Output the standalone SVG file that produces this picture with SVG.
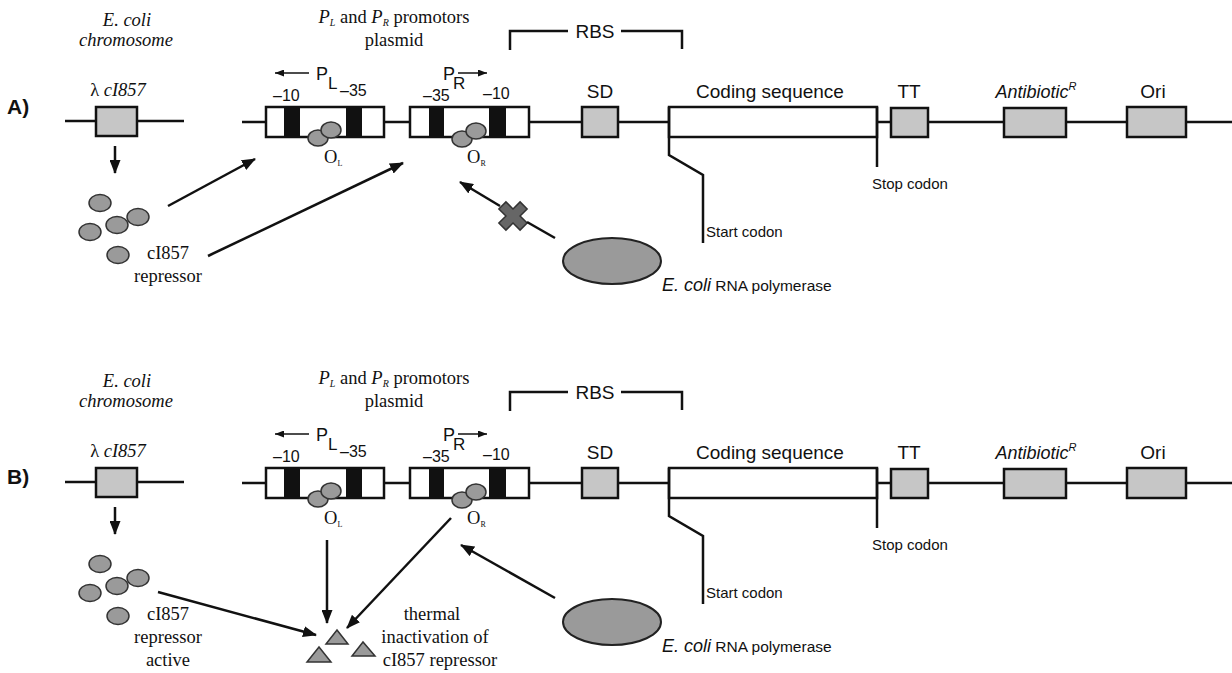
<svg xmlns="http://www.w3.org/2000/svg" width="1232" height="673" viewBox="0 0 1232 673">
<style>
.ln{stroke:#111;stroke-width:2.5;fill:none}
.box{fill:#c6c6c6;stroke:#111;stroke-width:2.5}
.wbox{fill:#fff;stroke:#111;stroke-width:2.5}
.blk{fill:#111}
.dot{fill:#9a9a9a;stroke:#333;stroke-width:1.5}
.serif{font-family:"Liberation Serif","Times New Roman",serif;fill:#111;font-size:18.5px}
.sans{font-family:"Liberation Sans",Arial,sans-serif;fill:#111}
.lbl{font-size:19px}
.num{font-size:16px}
.small{font-size:15px}
.arr{stroke:#111;stroke-width:2.5;fill:none;marker-end:url(#ah)}
.arrs{stroke:#111;stroke-width:1.5;fill:none;marker-end:url(#ahs)}
.panel{font-family:"Liberation Sans",Arial,sans-serif;font-weight:bold;font-size:21px;fill:#111}
</style>
<defs>
<marker id="ah" markerUnits="userSpaceOnUse" markerWidth="14" markerHeight="11" refX="13" refY="5.5" orient="auto"><path d="M0,0 L14,5.5 L0,11 z" fill="#111"/></marker>
<marker id="ahs" markerUnits="userSpaceOnUse" markerWidth="9" markerHeight="7" refX="9" refY="3.5" orient="auto"><path d="M0,0 L9,3.5 L0,7 z" fill="#111"/></marker>
</defs>
<rect width="1232" height="673" fill="#fff"/>

<!-- ===== Panel A ===== -->
<g id="panelA">
<text class="panel" x="7" y="114">A)</text>
<g id="A-chromosome">
<text class="serif" x="127" y="26" text-anchor="middle" font-style="italic">E. coli</text>
<text class="serif" x="126" y="46" text-anchor="middle" font-style="italic">chromosome</text>
<text class="serif" x="118" y="96" text-anchor="middle"><tspan>λ </tspan><tspan font-style="italic">cI857</tspan></text>
<line class="ln" x1="65" y1="121" x2="184" y2="121"/>
<rect class="box" x="96" y="107" width="41" height="29"/>
</g>
<g id="A-repressor">
<ellipse class="dot" cx="100" cy="203" rx="11" ry="8.5"/>
<ellipse class="dot" cx="90" cy="232" rx="11" ry="8.5"/>
<ellipse class="dot" cx="117" cy="225" rx="11" ry="8.5"/>
<ellipse class="dot" cx="138" cy="217" rx="11" ry="8.5"/>
<ellipse class="dot" cx="118" cy="255" rx="11" ry="8.5"/>
<text class="serif" x="168" y="259" text-anchor="middle">cI857</text>
<text class="serif" x="168" y="282" text-anchor="middle">repressor</text>
</g>
<g id="A-plasmid-title">
<text class="serif" x="394" y="23" text-anchor="middle"><tspan font-style="italic">P</tspan><tspan font-style="italic" font-size="10" dy="3">L</tspan><tspan dy="-3"> and </tspan><tspan font-style="italic">P</tspan><tspan font-style="italic" font-size="10" dy="3">R</tspan><tspan dy="-3"> promotors</tspan></text>
<text class="serif" x="394" y="46" text-anchor="middle">plasmid</text>
</g>
<line class="ln" x1="242" y1="122" x2="1232" y2="122"/>
<g id="A-PL">
<rect class="wbox" x="266" y="107" width="118" height="30"/>
<rect class="blk" x="284" y="107" width="16" height="30"/>
<rect class="blk" x="346" y="107" width="16" height="30"/>
<ellipse class="dot" cx="318" cy="138" rx="10" ry="8"/>
<ellipse class="dot" cx="331" cy="130" rx="10" ry="8"/>
<text class="sans" x="316" y="80" font-size="18">P</text>
<text class="sans" x="328" y="89" font-size="17">L</text>
<text class="sans num" x="273" y="101">–10</text>
<text class="sans num" x="340" y="96">–35</text>
<text class="serif" x="324" y="163" font-size="14">O<tspan font-size="8" dy="3">L</tspan></text>
</g>
<g id="A-PR">
<rect class="wbox" x="410" y="107" width="119" height="30"/>
<rect class="blk" x="429" y="107" width="15" height="30"/>
<rect class="blk" x="489" y="107" width="17" height="30"/>
<ellipse class="dot" cx="462" cy="139" rx="10" ry="8"/>
<ellipse class="dot" cx="476" cy="131" rx="10" ry="8"/>
<text class="sans" x="443" y="80" font-size="18">P</text>
<text class="sans" x="453" y="89" font-size="17">R</text>
<text class="sans num" x="423" y="101">–35</text>
<text class="sans num" x="483" y="99">–10</text>
<text class="serif" x="467" y="163" font-size="14">O<tspan font-size="8" dy="3">R</tspan></text>
</g>
<g id="A-RBS">
<path class="ln" d="M510,50 V31 H568 M621,31 H682 V49"/>
<text class="sans lbl" x="595" y="38" text-anchor="middle">RBS</text>
</g>
<g id="A-SD">
<rect class="box" x="582" y="107" width="36" height="30"/>
<text class="sans lbl" x="600" y="98" text-anchor="middle">SD</text>
</g>
<g id="A-coding">
<rect class="wbox" x="669" y="107" width="208" height="30"/>
<text class="sans lbl" x="770" y="98" text-anchor="middle">Coding sequence</text>
<path class="ln" d="M669,107 V155 L703,175 V243"/>
<text class="sans small" x="706" y="237">Start codon</text>
<path class="ln" d="M877,107 V167"/>
<text class="sans small" x="872" y="189">Stop codon</text>
</g>
<g id="A-TT">
<rect class="box" x="891" y="108" width="37" height="29"/>
<text class="sans lbl" x="909" y="98" text-anchor="middle">TT</text>
</g>
<g id="A-antibiotic">
<rect class="box" x="1004" y="108" width="62" height="29"/>
<text class="sans" x="1036" y="98" text-anchor="middle" font-size="18" font-style="italic">Antibiotic<tspan font-size="11" dy="-8">R</tspan></text>
</g>
<g id="A-ori">
<rect class="box" x="1127" y="107" width="59" height="30" stroke-width="3"/>
<text class="sans lbl" x="1153" y="98" text-anchor="middle">Ori</text>
</g>
<g id="A-polymerase">
<ellipse cx="612" cy="261" rx="49" ry="23" fill="#9a9a9a" stroke="#222" stroke-width="2"/>
<text class="sans" x="662" y="291"><tspan font-style="italic" font-size="18">E. coli</tspan><tspan font-size="15.5"> RNA polymerase</tspan></text>
</g>
<g id="A-block">
<polygon points="-5,-15 5,-15 5,-5 15,-5 15,5 5,5 5,15 -5,15 -5,5 -15,5 -15,-5 -5,-5" transform="translate(513,216) rotate(45)" fill="#666" stroke="#333" stroke-width="1.5"/>
</g>
<g id="A-connectors">
<line class="arr" x1="115" y1="146" x2="115" y2="173"/>
<line class="arr" x1="168" y1="206" x2="255" y2="159"/>
<line class="arr" x1="208" y1="256" x2="403" y2="163"/>
<line class="ln" x1="555" y1="238" x2="527" y2="222"/>
<line class="arr" x1="500" y1="206" x2="460" y2="182"/>
<line class="arrs" x1="309" y1="73" x2="275" y2="73"/>
<line class="arrs" x1="458" y1="73" x2="487" y2="73"/>
</g>
</g>

<!-- ===== Panel B ===== -->
<g id="panelB">
<text class="panel" x="7" y="484">B)</text>
<g id="B-shared" transform="translate(0,361)">
<g id="B-chromosome">
<text class="serif" x="127" y="26" text-anchor="middle" font-style="italic">E. coli</text>
<text class="serif" x="126" y="46" text-anchor="middle" font-style="italic">chromosome</text>
<text class="serif" x="118" y="96" text-anchor="middle"><tspan>λ </tspan><tspan font-style="italic">cI857</tspan></text>
<line class="ln" x1="65" y1="121" x2="184" y2="121"/>
<rect class="box" x="96" y="107" width="41" height="29"/>
</g>
<g id="B-repressor">
<ellipse class="dot" cx="100" cy="203" rx="11" ry="8.5"/>
<ellipse class="dot" cx="90" cy="232" rx="11" ry="8.5"/>
<ellipse class="dot" cx="117" cy="225" rx="11" ry="8.5"/>
<ellipse class="dot" cx="138" cy="217" rx="11" ry="8.5"/>
<ellipse class="dot" cx="118" cy="255" rx="11" ry="8.5"/>
<text class="serif" x="168" y="259" text-anchor="middle">cI857</text>
<text class="serif" x="168" y="282" text-anchor="middle">repressor</text>
<text class="serif" x="168" y="305" text-anchor="middle">active</text>
</g>
<g id="B-plasmid-title">
<text class="serif" x="394" y="23" text-anchor="middle"><tspan font-style="italic">P</tspan><tspan font-style="italic" font-size="10" dy="3">L</tspan><tspan dy="-3"> and </tspan><tspan font-style="italic">P</tspan><tspan font-style="italic" font-size="10" dy="3">R</tspan><tspan dy="-3"> promotors</tspan></text>
<text class="serif" x="394" y="46" text-anchor="middle">plasmid</text>
</g>
<line class="ln" x1="242" y1="122" x2="1232" y2="122"/>
<g id="B-PL">
<rect class="wbox" x="266" y="107" width="118" height="30"/>
<rect class="blk" x="284" y="107" width="16" height="30"/>
<rect class="blk" x="346" y="107" width="16" height="30"/>
<ellipse class="dot" cx="318" cy="138" rx="10" ry="8"/>
<ellipse class="dot" cx="331" cy="130" rx="10" ry="8"/>
<text class="sans" x="316" y="80" font-size="18">P</text>
<text class="sans" x="328" y="89" font-size="17">L</text>
<text class="sans num" x="273" y="101">–10</text>
<text class="sans num" x="340" y="96">–35</text>
<text class="serif" x="324" y="163" font-size="14">O<tspan font-size="8" dy="3">L</tspan></text>
</g>
<g id="B-PR">
<rect class="wbox" x="410" y="107" width="119" height="30"/>
<rect class="blk" x="429" y="107" width="15" height="30"/>
<rect class="blk" x="489" y="107" width="17" height="30"/>
<ellipse class="dot" cx="462" cy="139" rx="10" ry="8"/>
<ellipse class="dot" cx="476" cy="131" rx="10" ry="8"/>
<text class="sans" x="443" y="80" font-size="18">P</text>
<text class="sans" x="453" y="89" font-size="17">R</text>
<text class="sans num" x="423" y="101">–35</text>
<text class="sans num" x="483" y="99">–10</text>
<text class="serif" x="467" y="163" font-size="14">O<tspan font-size="8" dy="3">R</tspan></text>
</g>
<g id="B-RBS">
<path class="ln" d="M510,50 V31 H568 M621,31 H682 V49"/>
<text class="sans lbl" x="595" y="38" text-anchor="middle">RBS</text>
</g>
<g id="B-SD">
<rect class="box" x="582" y="107" width="36" height="30"/>
<text class="sans lbl" x="600" y="98" text-anchor="middle">SD</text>
</g>
<g id="B-coding">
<rect class="wbox" x="669" y="107" width="208" height="30"/>
<text class="sans lbl" x="770" y="98" text-anchor="middle">Coding sequence</text>
<path class="ln" d="M669,107 V155 L703,175 V243"/>
<text class="sans small" x="706" y="237">Start codon</text>
<path class="ln" d="M877,107 V167"/>
<text class="sans small" x="872" y="189">Stop codon</text>
</g>
<g id="B-TT">
<rect class="box" x="891" y="108" width="37" height="29"/>
<text class="sans lbl" x="909" y="98" text-anchor="middle">TT</text>
</g>
<g id="B-antibiotic">
<rect class="box" x="1004" y="108" width="62" height="29"/>
<text class="sans" x="1036" y="98" text-anchor="middle" font-size="18" font-style="italic">Antibiotic<tspan font-size="11" dy="-8">R</tspan></text>
</g>
<g id="B-ori">
<rect class="box" x="1127" y="107" width="59" height="30" stroke-width="3"/>
<text class="sans lbl" x="1153" y="98" text-anchor="middle">Ori</text>
</g>
<g id="B-polymerase">
<ellipse cx="612" cy="261" rx="49" ry="23" fill="#9a9a9a" stroke="#222" stroke-width="2"/>
<text class="sans" x="662" y="291"><tspan font-style="italic" font-size="18">E. coli</tspan><tspan font-size="15.5"> RNA polymerase</tspan></text>
</g>
</g>
<g id="B-inactivated">
<polygon points="326,644 348,644 337,630" class="dot"/>
<polygon points="307,662 331,662 319,647" class="dot"/>
<polygon points="352,656 375,656 363,642" class="dot"/>
<text class="serif" x="432" y="620" text-anchor="middle">thermal</text>
<text class="serif" x="435" y="643" text-anchor="middle">inactivation of</text>
<text class="serif" x="440" y="666" text-anchor="middle">cI857 repressor</text>
</g>
<g id="B-connectors">
<line class="arr" x1="115" y1="507" x2="115" y2="534"/>
<line class="arr" x1="158" y1="592" x2="316" y2="635"/>
<line class="arr" x1="327" y1="540" x2="327" y2="623"/>
<line class="arr" x1="451" y1="518" x2="347" y2="628"/>
<line class="arr" x1="555" y1="598" x2="461" y2="545"/>
<line class="arrs" x1="309" y1="434" x2="275" y2="434"/>
<line class="arrs" x1="458" y1="434" x2="487" y2="434"/>
</g>
</g>
</svg>
